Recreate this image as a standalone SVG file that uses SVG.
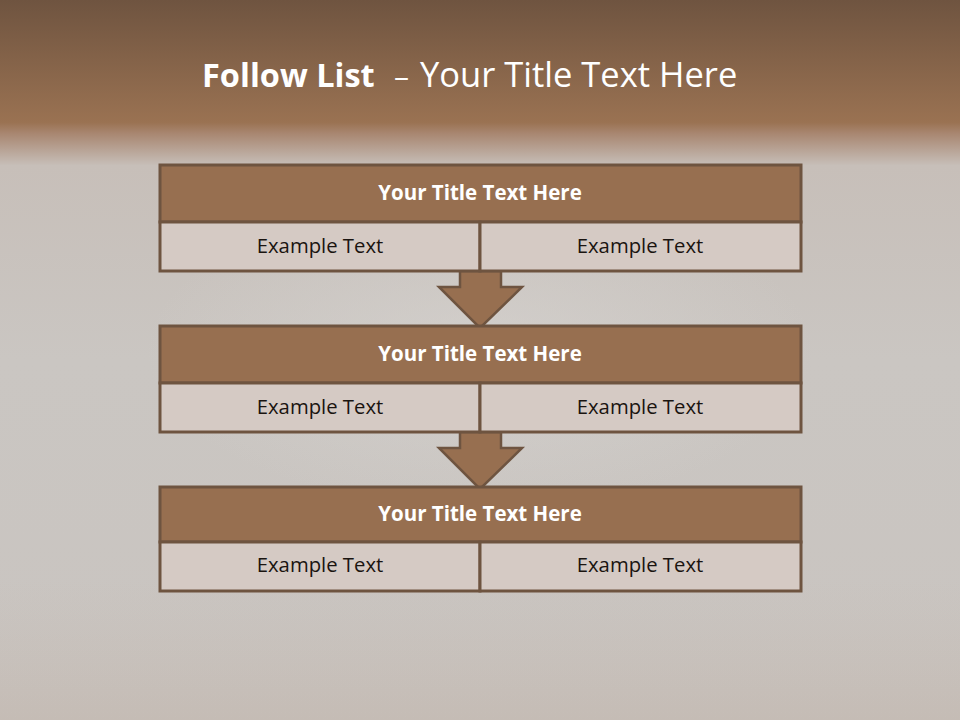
<svg xmlns="http://www.w3.org/2000/svg" width="960" height="720" viewBox="0 0 960 720">
<defs>
<linearGradient id="bg" x1="0" y1="0" x2="0" y2="1">
<stop offset="0" stop-color="#6f5440"/>
<stop offset="0.17" stop-color="#9a7252"/>
<stop offset="0.185" stop-color="#a88670"/>
<stop offset="0.23" stop-color="#c7bfb9"/>
<stop offset="0.5" stop-color="#cac6c2"/>
<stop offset="1" stop-color="#c9c4c0"/>
</linearGradient>
<radialGradient id="glow" cx="0.5" cy="0.45" r="0.35">
<stop offset="0" stop-color="#d8d5d2" stop-opacity="0.6"/>
<stop offset="1" stop-color="#d8d5d2" stop-opacity="0"/>
</radialGradient>
<linearGradient id="wood" x1="0" y1="0" x2="0" y2="1">
<stop offset="0" stop-color="#c0b0a4" stop-opacity="0"/>
<stop offset="1" stop-color="#b8a494" stop-opacity="0.25"/>
</linearGradient>
</defs>
<style>
.head{fill:#976f50;stroke:#6e5440;stroke-width:3}
.cell{fill:#d5cac4;stroke:#6e5440;stroke-width:3}
.arrow{fill:#976f50;stroke:#6e5440;stroke-width:2.5;stroke-linejoin:miter}
.ht{font-family:"Open Sans",Lato,sans-serif;font-weight:bold;font-size:20.5px;fill:#ffffff;text-anchor:middle}
.ct{font-family:"Open Sans",Lato,sans-serif;font-size:20.3px;fill:#1a1410;text-anchor:middle}
.title{font-family:"Open Sans",Lato,sans-serif;font-size:34.5px;fill:#ffffff}
</style>
<rect x="0" y="0" width="960" height="720" fill="url(#bg)"/>
<rect x="0" y="150" width="960" height="450" fill="url(#glow)"/>
<rect x="0" y="580" width="960" height="140" fill="url(#wood)"/>
<text class="title" x="202" y="87"><tspan font-weight="bold" font-size="32.5px">Follow List</tspan><tspan x="394" font-size="30px">–</tspan><tspan x="420">Your Title Text Here</tspan></text>
<g id="connectors">
<polygon class="arrow" points="460,271 501,271 501,287 522,287 480,328 439,287 460,287"/>
<polygon class="arrow" points="460,432 501,432 501,448 522,448 480,489 439,448 460,448"/>
</g>
<g id="node1">
<rect class="head" x="160" y="165" width="641" height="57"/>
<rect class="cell" x="160" y="222" width="320" height="49"/>
<rect class="cell" x="480" y="222" width="321" height="49"/>
<text class="ht" x="480" y="200">Your Title Text Here</text>
<text class="ct" x="320" y="253">Example Text</text>
<text class="ct" x="640" y="253">Example Text</text>
</g>
<g id="node2">
<rect class="head" x="160" y="326" width="641" height="57"/>
<rect class="cell" x="160" y="383" width="320" height="49"/>
<rect class="cell" x="480" y="383" width="321" height="49"/>
<text class="ht" x="480" y="361">Your Title Text Here</text>
<text class="ct" x="320" y="414">Example Text</text>
<text class="ct" x="640" y="414">Example Text</text>
</g>
<g id="node3">
<rect class="head" x="160" y="487" width="641" height="55"/>
<rect class="cell" x="160" y="542" width="320" height="49"/>
<rect class="cell" x="480" y="542" width="321" height="49"/>
<text class="ht" x="480" y="521">Your Title Text Here</text>
<text class="ct" x="320" y="572">Example Text</text>
<text class="ct" x="640" y="572">Example Text</text>
</g>
</svg>
